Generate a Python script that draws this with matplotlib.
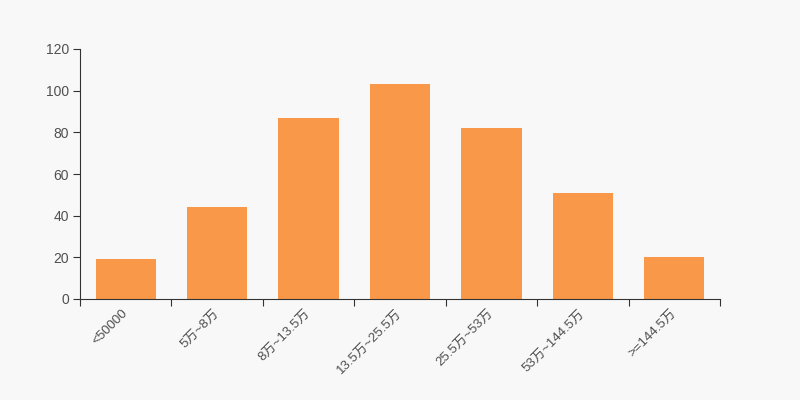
import matplotlib
matplotlib.use("Agg")
import matplotlib.pyplot as plt
import numpy as np

plt.rcParams['font.family'] = ['Liberation Sans', 'Noto Sans CJK SC', 'DejaVu Sans']

categories = ["<50000", "5万~8万", "8万~13.5万", "13.5万~25.5万", "25.5万~53万", "53万~144.5万", ">=144.5万"]
values = [19, 44, 87, 103, 82, 51, 20]
yticks = [0, 20, 40, 60, 80, 100, 120]

bg = "#f8f8f8"
txt = "#505050"
fig = plt.figure(figsize=(8, 4), dpi=100, facecolor=bg)
ax = fig.add_axes([0.1, 0.2525, 0.8, 0.625])
ax.set_facecolor(bg)

x = np.arange(len(categories))
ax.bar(x, values, width=0.66, color="#f89848", zorder=2)
ax.set_xlim(-0.5, len(categories) - 0.5)
ax.set_ylim(0, 120)
ax.set_yticks(yticks)
ax.set_yticklabels([str(v) for v in yticks], fontsize=10, color=txt)

ax.set_xticks(x)
ax.set_xticklabels(categories, rotation=45, ha="right", va="center", rotation_mode="anchor",
                   fontsize=9.5, color=txt)
ax.tick_params(axis="x", which="major", length=0, pad=9)
ax.set_xticks(np.arange(-0.5, len(categories), 1.0), minor=True)
ax.tick_params(axis="x", which="minor", length=5, color="#333333", width=0.8)
ax.tick_params(axis="y", length=5, color="#333333", width=0.8, pad=3)

for s in ["top", "right"]:
    ax.spines[s].set_visible(False)
for s in ["left", "bottom"]:
    ax.spines[s].set_color("#333333")
    ax.spines[s].set_linewidth(0.8)

fig.savefig("out.png", dpi=100, facecolor=bg)
